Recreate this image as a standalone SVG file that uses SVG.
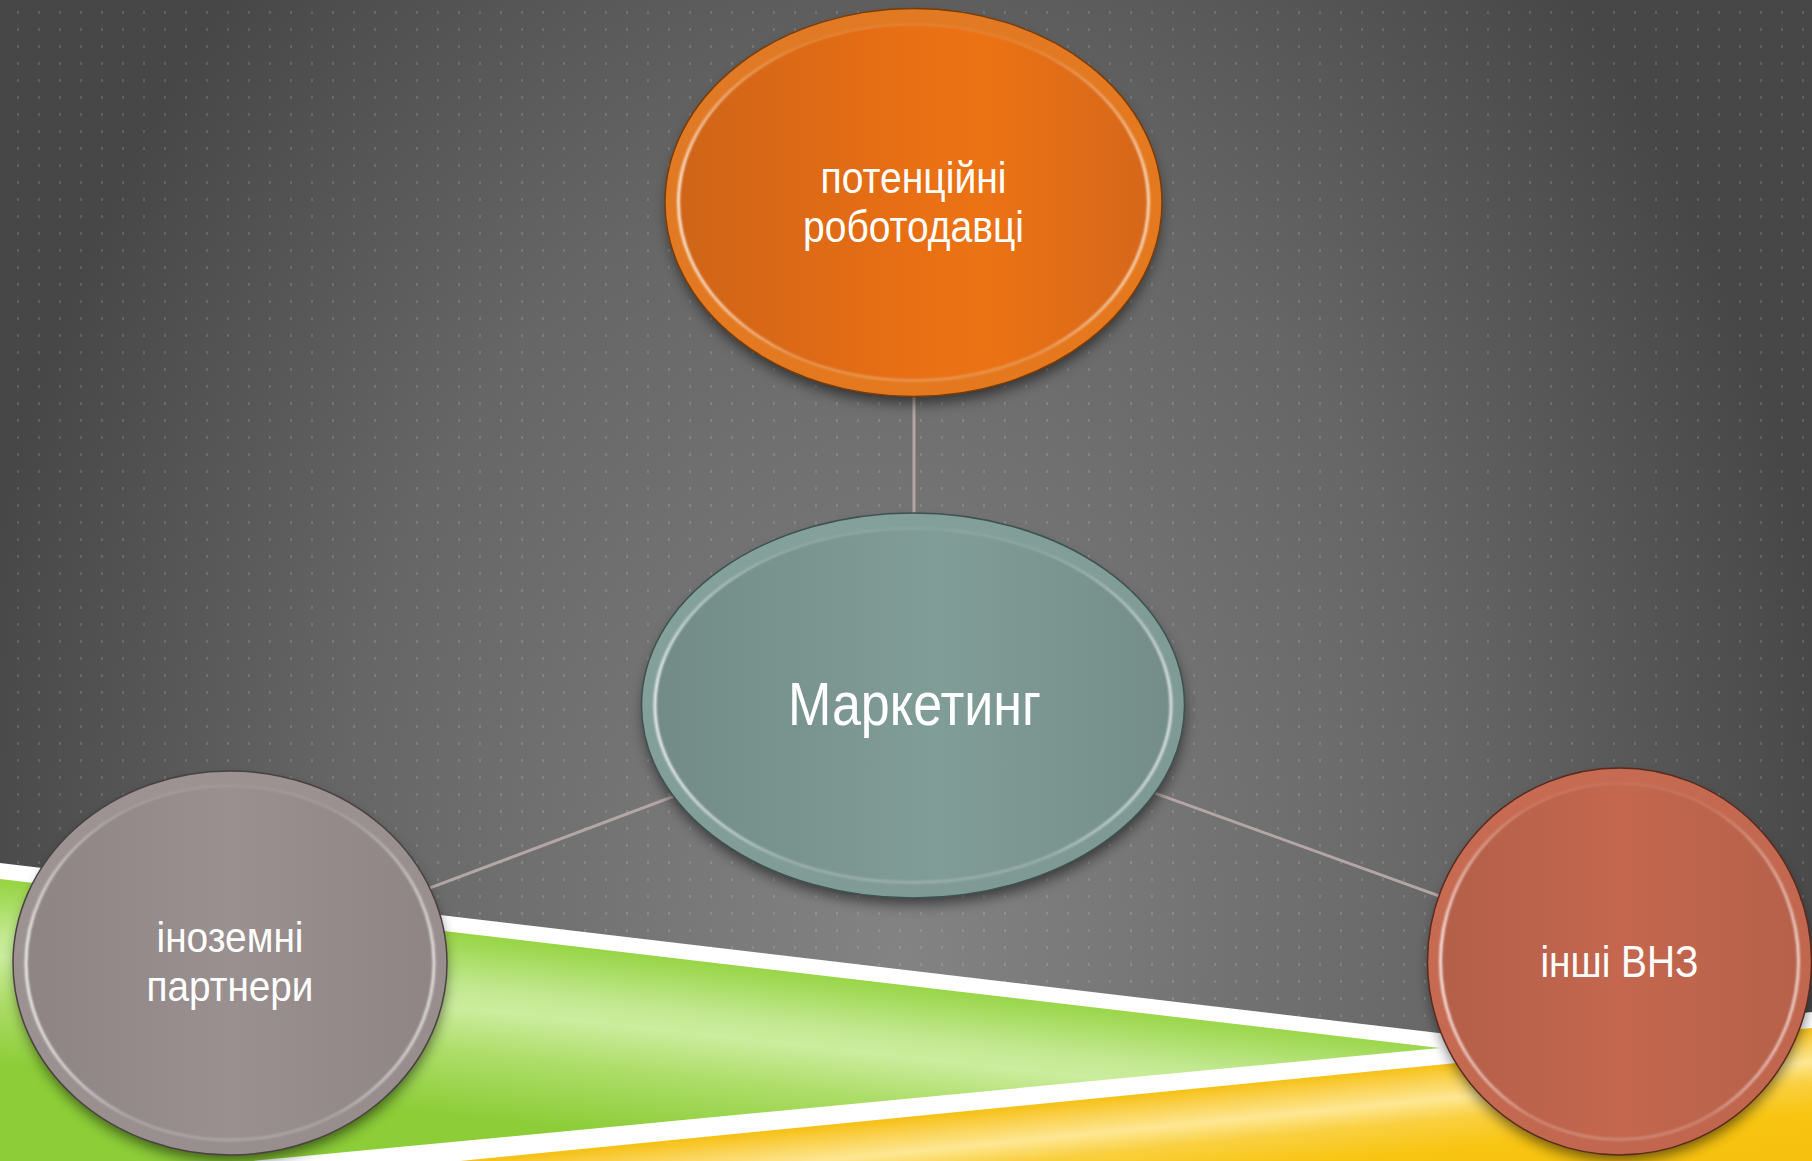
<svg xmlns="http://www.w3.org/2000/svg" width="1812" height="1161" viewBox="0 0 1812 1161">
<style>
.lbl{font-family:"Liberation Sans","Arial Narrow",Arial,sans-serif;fill:#ffffff;text-anchor:middle}
.con{stroke:#b4a6a6;stroke-width:3;fill:none}
.hl{fill:none;stroke:url(#hl);stroke-width:3;filter:url(#soft)}
.sh{fill:#000;opacity:.55;filter:url(#blur)}
</style>
<defs>
<radialGradient id="bg" gradientUnits="userSpaceOnUse" cx="900" cy="950" r="1000" gradientTransform="translate(900 950) scale(0.95 1.35) translate(-900 -950)">
<stop offset="0" stop-color="#838383"/>
<stop offset="0.6" stop-color="#666666"/>
<stop offset="1" stop-color="#474747"/>
</radialGradient>
<pattern id="dots" patternUnits="userSpaceOnUse" width="21" height="17">
<rect x="17" y="11" width="2" height="3" fill="#ffffff" opacity="0.13"/>
</pattern>
<linearGradient id="green" gradientUnits="userSpaceOnUse" x1="600" y1="950" x2="580" y2="1130">
<stop offset="0" stop-color="#98d546"/>
<stop offset="0.28" stop-color="#c2e890"/>
<stop offset="0.4" stop-color="#cbed9e"/>
<stop offset="0.65" stop-color="#addd68"/>
<stop offset="1" stop-color="#8ccd38"/>
</linearGradient>
<linearGradient id="yellow" gradientUnits="userSpaceOnUse" x1="1340" y1="1075" x2="1352" y2="1195">
<stop offset="0" stop-color="#f6c21a"/>
<stop offset="0.14" stop-color="#fbd55a"/>
<stop offset="0.28" stop-color="#fde793"/>
<stop offset="0.45" stop-color="#fad040"/>
<stop offset="0.7" stop-color="#f8c512"/>
<stop offset="1" stop-color="#f7c20f"/>
</linearGradient>
<linearGradient id="hl" x1="0" y1="0" x2="1" y2="0">
<stop offset="0" stop-color="#ffffff" stop-opacity="0.8"/>
<stop offset="0.25" stop-color="#ffffff" stop-opacity="0.2"/>
<stop offset="0.75" stop-color="#ffffff" stop-opacity="0.2"/>
<stop offset="1" stop-color="#ffffff" stop-opacity="0.7"/>
</linearGradient>
<linearGradient id="fadeTop" x1="0" y1="0" x2="0" y2="1">
<stop offset="0" stop-color="#ffffff" stop-opacity="0.15"/>
<stop offset="0.45" stop-color="#ffffff" stop-opacity="1"/>
<stop offset="1" stop-color="#ffffff" stop-opacity="1"/>
</linearGradient>
<mask id="hlMask" maskContentUnits="objectBoundingBox" x="-0.1" y="-0.1" width="1.2" height="1.2">
<rect x="-0.1" y="-0.1" width="1.2" height="1.2" fill="url(#fadeTop)"/>
</mask>
<linearGradient id="oRim" x1="0" y1="0" x2="1" y2="1">
<stop offset="0" stop-color="#e07a26"/><stop offset="1" stop-color="#e6781c"/>
</linearGradient>
<linearGradient id="oFace" x1="0" y1="0" x2="1" y2="0">
<stop offset="0" stop-color="#cf6418"/><stop offset="0.5" stop-color="#e96f14"/><stop offset="0.65" stop-color="#ec7314"/><stop offset="1" stop-color="#d6671a"/>
</linearGradient>
<linearGradient id="tRim" x1="0" y1="0" x2="1" y2="1">
<stop offset="0" stop-color="#86a29d"/><stop offset="1" stop-color="#7d9893"/>
</linearGradient>
<linearGradient id="tFace" x1="0" y1="0" x2="1" y2="0">
<stop offset="0" stop-color="#728b87"/><stop offset="0.55" stop-color="#819d98"/><stop offset="1" stop-color="#748d89"/>
</linearGradient>
<linearGradient id="gRim" x1="0" y1="0" x2="1" y2="1">
<stop offset="0" stop-color="#9e9494"/><stop offset="1" stop-color="#968c8c"/>
</linearGradient>
<linearGradient id="gFace" x1="0" y1="0" x2="1" y2="0">
<stop offset="0" stop-color="#8e8484"/><stop offset="0.5" stop-color="#9a9090"/><stop offset="1" stop-color="#8f8585"/>
</linearGradient>
<linearGradient id="rRim" x1="0" y1="0" x2="1" y2="1">
<stop offset="0" stop-color="#c86c54"/><stop offset="1" stop-color="#c0654d"/>
</linearGradient>
<linearGradient id="rFace" x1="0" y1="0" x2="1" y2="0">
<stop offset="0" stop-color="#b45f49"/><stop offset="0.5" stop-color="#c4674e"/><stop offset="1" stop-color="#b6614a"/>
</linearGradient>
<filter id="blur" x="-20%" y="-20%" width="140%" height="140%"><feGaussianBlur stdDeviation="7"/></filter>
<filter id="soft" x="-5%" y="-5%" width="110%" height="110%"><feGaussianBlur stdDeviation="1.2"/></filter>
</defs>

<g id="background">
<rect width="1812" height="1161" fill="url(#bg)"/>
<rect width="1812" height="1161" fill="url(#dots)"/>
<polygon points="0,863 1515,1042 1812,1012 1812,1161 0,1161" fill="#ffffff"/>
<polygon points="0,879 1440,1048 0,1185" fill="url(#green)"/>
<polygon points="460,1161 1812,1028 1812,1161" fill="url(#yellow)"/>
</g>

<g id="connectors">
<line class="con" x1="914" y1="202" x2="914" y2="706"/>
<line class="con" x1="914" y1="706" x2="230" y2="963"/>
<line class="con" x1="914" y1="706" x2="1619" y2="961"/>
</g>

<g id="node-top">
<ellipse class="sh" cx="914" cy="211" rx="246" ry="192"/>
<ellipse cx="913.5" cy="202.5" rx="248.5" ry="194" fill="url(#oRim)" stroke="#7a3c08" stroke-width="1.5"/>
<ellipse cx="913.5" cy="202.5" rx="234" ry="177" fill="url(#oFace)"/>
<ellipse class="hl" mask="url(#hlMask)" cx="913.5" cy="202.5" rx="235" ry="178"/>
<text class="lbl" font-size="44" x="913.5" y="193" textLength="186" lengthAdjust="spacingAndGlyphs">потенційні</text>
<text class="lbl" font-size="44" x="913.5" y="242" textLength="221" lengthAdjust="spacingAndGlyphs">роботодавці</text>
</g>

<g id="node-center">
<ellipse class="sh" cx="914" cy="714" rx="270" ry="190"/>
<ellipse cx="913" cy="705.5" rx="271.5" ry="192.5" fill="url(#tRim)" stroke="#3e5250" stroke-width="1.5"/>
<ellipse cx="913" cy="705.5" rx="257" ry="176" fill="url(#tFace)"/>
<ellipse class="hl" mask="url(#hlMask)" cx="913" cy="705.5" rx="258" ry="177"/>
<text class="lbl" font-size="62" x="914.5" y="725" textLength="253" lengthAdjust="spacingAndGlyphs">Маркетинг</text>
</g>

<g id="node-left">
<ellipse class="sh" cx="231" cy="971" rx="215" ry="190"/>
<ellipse cx="230" cy="963" rx="217" ry="192" fill="url(#gRim)" stroke="#4a4242" stroke-width="1.5"/>
<ellipse cx="230" cy="963" rx="203" ry="176" fill="url(#gFace)"/>
<ellipse class="hl" mask="url(#hlMask)" cx="230" cy="963" rx="204" ry="177"/>
<text class="lbl" font-size="42" x="230" y="952" textLength="147" lengthAdjust="spacingAndGlyphs">іноземні</text>
<text class="lbl" font-size="42" x="230" y="1001" textLength="167" lengthAdjust="spacingAndGlyphs">партнери</text>
</g>

<g id="node-right">
<ellipse class="sh" cx="1620" cy="970" rx="190" ry="191"/>
<ellipse cx="1619.5" cy="961.5" rx="192" ry="193.5" fill="url(#rRim)" stroke="#5a2a1e" stroke-width="1.5"/>
<ellipse cx="1619.5" cy="961.5" rx="178" ry="177" fill="url(#rFace)"/>
<ellipse class="hl" mask="url(#hlMask)" cx="1619.5" cy="961.5" rx="179" ry="178"/>
<text class="lbl" font-size="45" x="1619.5" y="977" textLength="158" lengthAdjust="spacingAndGlyphs">інші ВНЗ</text>
</g>
</svg>
